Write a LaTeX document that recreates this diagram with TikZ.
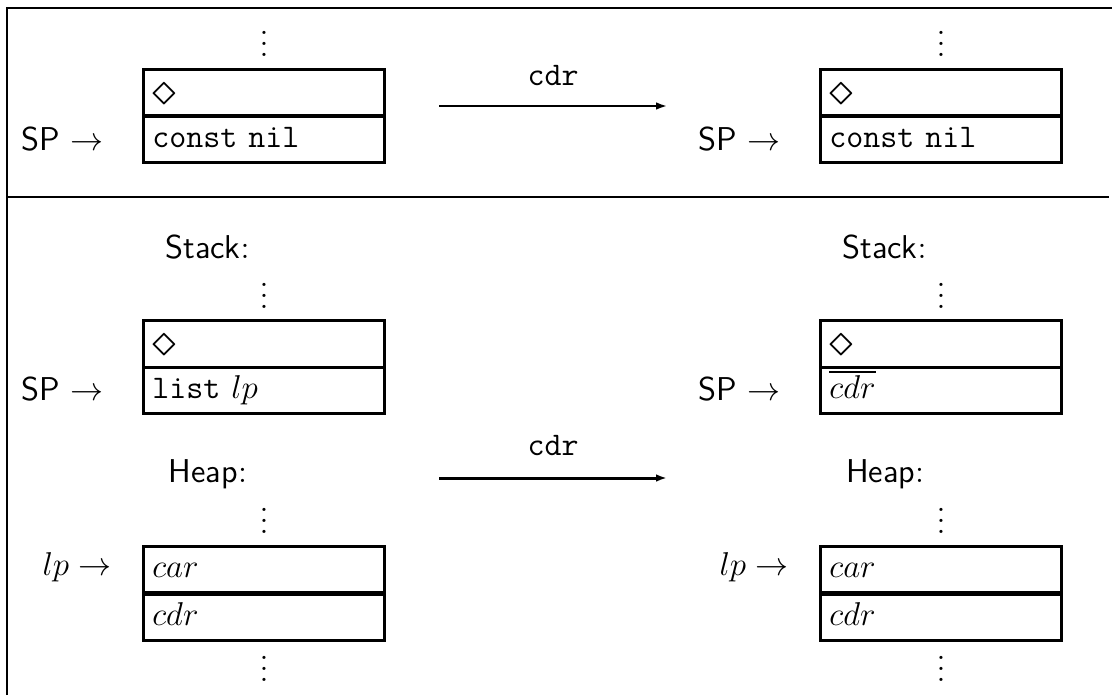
\documentclass[12pt,tikz,border=0pt]{standalone}
\usetikzlibrary{positioning,arrows.meta}
\newcommand{\emptymark}{{\fontsize{16}{16}\selectfont$\diamond$}}
\begin{document}
\begin{tikzpicture}[x=0.3636pt,y=0.3636pt,
    cell/.style={draw,black,line width=1.1pt,inner xsep=3.2pt,inner ysep=0pt,text width=81.2pt,align=left,minimum width=87.6pt,minimum height=16.9pt,text height=9pt,text depth=3pt},
    topcell/.style={cell,text depth=0pt},
    txt/.style={inner sep=0pt},
    ptr/.style={txt,anchor=base west},
    frame/.style={black,line width=0.9pt},
    trans/.style={black,-{Latex[length=4pt,width=2.8pt]}}]
    \useasboundingbox (0,0) rectangle (1112,-695);
    \draw [frame] (7,-695) -- (7,-8) -- (1112,-8);
    \draw [frame] (7,-197) -- (1109,-197);
    \node [txt,anchor=base] (dotsA) at (264,-56.8) {$\vdots$};
    \node [topcell] (topA) at (264,-92.75) {\emptymark};
    \node [cell,below=-1.1pt of topA] (nilA) {\texttt{const nil}};
    \node [ptr] (spA) at (21,-150) {\textsf{SP} $\rightarrow$};
    \coordinate (cdrAs) at (439,-106);
    \coordinate (cdrAe) at (667,-106);
    \draw [trans,line width=0.7pt] (cdrAs) -- node [txt,above=6.9pt] (cdrAl) {\texttt{cdr}} (cdrAe);
    \node [txt,anchor=base] (dotsB) at (941,-56.8) {$\vdots$};
    \node [topcell] (topB) at (941,-92.75) {\emptymark};
    \node [cell,below=-1.1pt of topB] (nilB) {\texttt{const nil}};
    \node [ptr] (spB) at (698,-150) {\textsf{SP} $\rightarrow$};
    \node [txt,anchor=base] (stackC) at (207.5,-258) {\textsf{Stack}:};
    \node [txt,anchor=base] (dotsC) at (264,-308.8) {$\vdots$};
    \node [topcell] (topC) at (264,-344) {\emptymark};
    \node [cell,below=-1.1pt of topC] (listC) {\texttt{list} $lp$};
    \node [ptr] (spC) at (21,-400) {\textsf{SP} $\rightarrow$};
    \node [txt,anchor=base] (heapC) at (208,-482) {\textsf{Heap}:};
    \node [txt,anchor=base] (hdotsC) at (264,-533.8) {$\vdots$};
    \node [cell] (carC) at (264,-569.5) {$car$};
    \node [cell,below=-0.6pt of carC] (cdrC) {$cdr$};
    \node [txt,anchor=base] (ldotsC) at (264,-681.8) {$\vdots$};
    \node [ptr] (lpC) at (42,-575) {$lp \rightarrow$};
    \coordinate (cdrBs) at (439,-478);
    \coordinate (cdrBe) at (667,-478);
    \draw [trans,line width=1.1pt] (cdrBs) -- node [txt,above=7.6pt] (cdrBl) {\texttt{cdr}} (cdrBe);
    \node [txt,anchor=base] (stackD) at (884.5,-258) {\textsf{Stack}:};
    \node [txt,anchor=base] (dotsD) at (941,-308.8) {$\vdots$};
    \node [topcell] (topD) at (941,-344) {\emptymark};
    \node [cell,below=-1.1pt of topD] (resD) {$\overline{cdr}$};
    \node [ptr] (spD) at (698,-400) {\textsf{SP} $\rightarrow$};
    \node [txt,anchor=base] (heapD) at (885,-482) {\textsf{Heap}:};
    \node [txt,anchor=base] (hdotsD) at (941,-533.8) {$\vdots$};
    \node [cell] (carD) at (941,-569.5) {$car$};
    \node [cell,below=-0.6pt of carD] (cdrD) {$cdr$};
    \node [txt,anchor=base] (ldotsD) at (941,-681.8) {$\vdots$};
    \node [ptr] (lpD) at (719,-575) {$lp \rightarrow$};
\end{tikzpicture}
\end{document}
